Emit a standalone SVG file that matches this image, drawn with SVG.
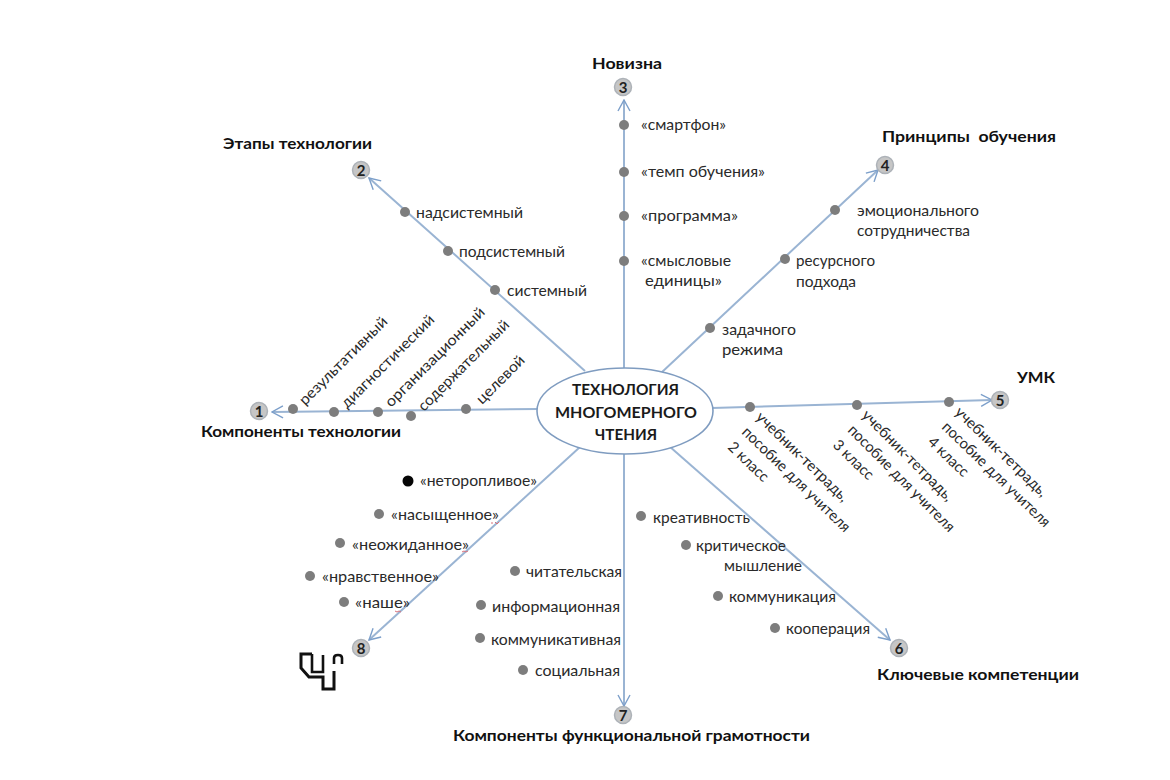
<svg xmlns="http://www.w3.org/2000/svg" width="1170" height="780" viewBox="0 0 1170 780">
<style>
text{font-family:Lato,"Open Sans","Noto Sans",sans-serif;fill:#2a2a2a}
.t{font-size:15px}
.b{font-size:15.5px;font-weight:700;fill:#111}
.n{font-size:15px;font-weight:700;text-anchor:middle;fill:#222}
.c{font-size:15.5px;font-weight:700;fill:#1a1a1a}
.l{stroke:#9ab4d3;stroke-width:2;fill:none}
.d{fill:#7d7d7d}
.o{fill:#c6c6c6;stroke:#adb2b8;stroke-width:1.5}
.r{fill:none;stroke:#d8707a;stroke-width:1}
.g{fill:none;stroke:#111;stroke-width:2.6}
</style>
<defs>
<marker id="a" viewBox="0 0 14 14" refX="13" refY="7" markerWidth="14" markerHeight="14" markerUnits="userSpaceOnUse" orient="auto"><path d="M2 1L13 7L2 13" fill="none" stroke="#7c9fca" stroke-width="1.4"/></marker>
</defs>
<rect width="1170" height="780" fill="#fff"/>
<g id="connectors">
<path class="l" d="M538 409L272 412" marker-end="url(#a)"/>
<path class="l" d="M585 371L369 178" marker-end="url(#a)"/>
<path class="l" d="M624 369L624 100" marker-end="url(#a)"/>
<path class="l" d="M661 373L878 170" marker-end="url(#a)"/>
<path class="l" d="M712 408L992 400" marker-end="url(#a)"/>
<path class="l" d="M669 446L890 640" marker-end="url(#a)"/>
<path class="l" d="M624 454L624 706" marker-end="url(#a)"/>
<path class="l" d="M580 447L369 640" marker-end="url(#a)"/>
</g>
<g id="center">
<ellipse cx="625" cy="411" rx="88" ry="43" fill="#fff" stroke="#7f9cc0" stroke-width="1.6"/>
<text class="c" x="572" y="395" textLength="107" lengthAdjust="spacingAndGlyphs">ТЕХНОЛОГИЯ</text>
<text class="c" x="555" y="418" textLength="142" lengthAdjust="spacingAndGlyphs">МНОГОМЕРНОГО</text>
<text class="c" x="595" y="440" textLength="62" lengthAdjust="spacingAndGlyphs">ЧТЕНИЯ</text>
</g>
<g id="node1">
<circle class="o" cx="259" cy="411" r="8.5"/><text class="n" x="259" y="416.500">1</text>
<text class="b" x="201" y="437" textLength="200" lengthAdjust="spacingAndGlyphs">Компоненты технологии</text>
<circle class="d" cx="293" cy="409" r="5"/><circle class="d" cx="334" cy="412" r="5"/><circle class="d" cx="378" cy="412" r="5"/><circle class="d" cx="411" cy="416" r="5"/><circle class="d" cx="466" cy="409" r="5"/>
<text class="t" transform="translate(305 406) rotate(-45)" textLength="118" lengthAdjust="spacingAndGlyphs">результативный</text>
<text class="t" transform="translate(347 409) rotate(-45)" textLength="125" lengthAdjust="spacingAndGlyphs">диагностический</text>
<text class="t" transform="translate(391 408) rotate(-45)" textLength="134" lengthAdjust="spacingAndGlyphs">организационный</text>
<text class="t" transform="translate(424 412) rotate(-45)" textLength="122" lengthAdjust="spacingAndGlyphs">содержательный</text>
<text class="t" transform="translate(482 405) rotate(-45)" textLength="62" lengthAdjust="spacingAndGlyphs">целевой</text>
</g>
<g id="node2">
<circle class="o" cx="361" cy="170" r="8.5"/><text class="n" x="361" y="175.500">2</text>
<text class="b" x="223" y="149" textLength="149" lengthAdjust="spacingAndGlyphs">Этапы технологии</text>
<circle class="d" cx="405" cy="212" r="5"/><circle class="d" cx="448" cy="251" r="5"/><circle class="d" cx="495" cy="290" r="5"/>
<text class="t" x="416" y="218" textLength="107" lengthAdjust="spacingAndGlyphs">надсистемный</text>
<text class="t" x="459" y="257" textLength="106" lengthAdjust="spacingAndGlyphs">подсистемный</text>
<text class="t" x="507" y="296" textLength="80" lengthAdjust="spacingAndGlyphs">системный</text>
</g>
<g id="node3">
<circle class="o" cx="623" cy="87" r="8.5"/><text class="n" x="623" y="92.500">3</text>
<text class="b" x="592" y="69" textLength="70" lengthAdjust="spacingAndGlyphs">Новизна</text>
<circle class="d" cx="624" cy="125" r="5"/><circle class="d" cx="624" cy="172" r="5"/><circle class="d" cx="624" cy="216" r="5"/><circle class="d" cx="624" cy="261" r="5"/>
<text class="t" x="641" y="130" textLength="85" lengthAdjust="spacingAndGlyphs">«смартфон»</text>
<text class="t" x="641" y="177" textLength="124" lengthAdjust="spacingAndGlyphs">«темп обучения»</text>
<text class="t" x="641" y="221" textLength="97" lengthAdjust="spacingAndGlyphs">«программа»</text>
<text class="t" x="641" y="266" textLength="90" lengthAdjust="spacingAndGlyphs">«смысловые</text>
<text class="t" x="645" y="286" textLength="77" lengthAdjust="spacingAndGlyphs">единицы»</text>
</g>
<g id="node4">
<circle class="o" cx="885" cy="165" r="8.5"/><text class="n" x="885" y="170.500">4</text>
<text class="b" x="882" y="142" textLength="174" lengthAdjust="spacingAndGlyphs" xml:space="preserve">Принципы  обучения</text>
<circle class="d" cx="835" cy="210" r="5"/><circle class="d" cx="785" cy="259" r="5"/><circle class="d" cx="710" cy="328" r="5"/>
<text class="t" x="857" y="216" textLength="122" lengthAdjust="spacingAndGlyphs">эмоционального</text>
<text class="t" x="857" y="236" textLength="113" lengthAdjust="spacingAndGlyphs">сотрудничества</text>
<text class="t" x="796" y="266" textLength="79" lengthAdjust="spacingAndGlyphs">ресурсного</text>
<text class="t" x="796" y="287" textLength="60" lengthAdjust="spacingAndGlyphs">подхода</text>
<text class="t" x="722" y="335" textLength="74" lengthAdjust="spacingAndGlyphs">задачного</text>
<text class="t" x="722" y="355" textLength="61" lengthAdjust="spacingAndGlyphs">режима</text>
</g>
<g id="node5">
<circle class="o" cx="1000" cy="400" r="8.5"/><text class="n" x="1000" y="405.500">5</text>
<text class="b" x="1017" y="383" textLength="38" lengthAdjust="spacingAndGlyphs">УМК</text>
<circle class="d" cx="750" cy="407" r="5"/><circle class="d" cx="857" cy="405" r="5"/><circle class="d" cx="949" cy="402" r="5"/>
<text class="t" transform="translate(755 418) rotate(44)" textLength="122" lengthAdjust="spacingAndGlyphs">учебник-тетрадь,</text>
<text class="t" transform="translate(741 433) rotate(44)" textLength="144" lengthAdjust="spacingAndGlyphs">пособие для учителя</text>
<text class="t" transform="translate(727 448) rotate(44)" textLength="50" lengthAdjust="spacingAndGlyphs">2 класс</text>
<text class="t" transform="translate(861 416) rotate(45)" textLength="122" lengthAdjust="spacingAndGlyphs">учебник-тетрадь,</text>
<text class="t" transform="translate(847 431) rotate(45)" textLength="144" lengthAdjust="spacingAndGlyphs">пособие для учителя</text>
<text class="t" transform="translate(832 446) rotate(44)" textLength="50" lengthAdjust="spacingAndGlyphs">3 класс</text>
<text class="t" transform="translate(954 413) rotate(44)" textLength="122" lengthAdjust="spacingAndGlyphs">учебник-тетрадь,</text>
<text class="t" transform="translate(941 428) rotate(44)" textLength="144" lengthAdjust="spacingAndGlyphs">пособие для учителя</text>
<text class="t" transform="translate(927 443) rotate(44)" textLength="50" lengthAdjust="spacingAndGlyphs">4 класс</text>
</g>
<g id="node6">
<circle class="o" cx="899" cy="648" r="8.5"/><text class="n" x="899" y="653.500">6</text>
<text class="b" x="877" y="680" textLength="202" lengthAdjust="spacingAndGlyphs">Ключевые компетенции</text>
<circle class="d" cx="641" cy="516" r="5"/><circle class="d" cx="686" cy="545" r="5"/><circle class="d" cx="718" cy="596" r="5"/><circle class="d" cx="775" cy="628" r="5"/>
<text class="t" x="653" y="523" textLength="97" lengthAdjust="spacingAndGlyphs">креативность</text>
<text class="t" x="696" y="551" textLength="90" lengthAdjust="spacingAndGlyphs">критическое</text>
<text class="t" x="724" y="571" textLength="78" lengthAdjust="spacingAndGlyphs">мышление</text>
<text class="t" x="729" y="602" textLength="107" lengthAdjust="spacingAndGlyphs">коммуникация</text>
<text class="t" x="786" y="634" textLength="84" lengthAdjust="spacingAndGlyphs">кооперация</text>
</g>
<g id="node7">
<circle class="o" cx="623" cy="715" r="8.5"/><text class="n" x="623" y="720.500">7</text>
<text class="b" x="453" y="741" textLength="357" lengthAdjust="spacingAndGlyphs">Компоненты функциональной грамотности</text>
<circle class="d" cx="515" cy="571" r="5"/><circle class="d" cx="481" cy="605" r="5"/><circle class="d" cx="480" cy="638" r="5"/><circle class="d" cx="523" cy="670" r="5"/>
<text class="t" x="526" y="577" textLength="96" lengthAdjust="spacingAndGlyphs">читательская</text>
<text class="t" x="492" y="612" textLength="128" lengthAdjust="spacingAndGlyphs">информационная</text>
<text class="t" x="491" y="645" textLength="130" lengthAdjust="spacingAndGlyphs">коммуникативная</text>
<text class="t" x="535" y="676" textLength="85" lengthAdjust="spacingAndGlyphs">социальная</text>
</g>
<g id="node8">
<circle class="o" cx="361" cy="648" r="8.5"/><text class="n" x="361" y="653.500">8</text>
<circle cx="408" cy="481" r="5.500" fill="#050505"/>
<circle class="d" cx="379" cy="514" r="5"/><circle class="d" cx="340" cy="543" r="5"/><circle class="d" cx="310" cy="576" r="5"/><circle class="d" cx="344" cy="602" r="5"/>
<text class="t" x="420" y="486" textLength="117" lengthAdjust="spacingAndGlyphs">«неторопливое»</text>
<text class="t" x="391" y="520" textLength="108" lengthAdjust="spacingAndGlyphs">«насыщенное»</text>
<text class="t" x="352" y="550" textLength="117" lengthAdjust="spacingAndGlyphs">«неожиданное»</text>
<text class="t" x="322" y="582" textLength="117" lengthAdjust="spacingAndGlyphs">«нравственное»</text>
<text class="t" x="355" y="608" textLength="55" lengthAdjust="spacingAndGlyphs">«наше»</text>
<path class="r" d="M491 523h2M495 522l2 2 2-2"/>
<path class="r" d="M462 552l2-1 2 1 2-1"/>
<path class="r" d="M395 611l2 1 2-1 2 1"/>
<path class="g" style="stroke-width:3" d="M312 654H301V668L309 677H323V689H334V671"/>
<path class="g" d="M312 654V672H323V655"/>
<path class="g" d="M334 664V658Q334 655 338 655Q342 655 342 658V664"/>
</g>
</svg>
